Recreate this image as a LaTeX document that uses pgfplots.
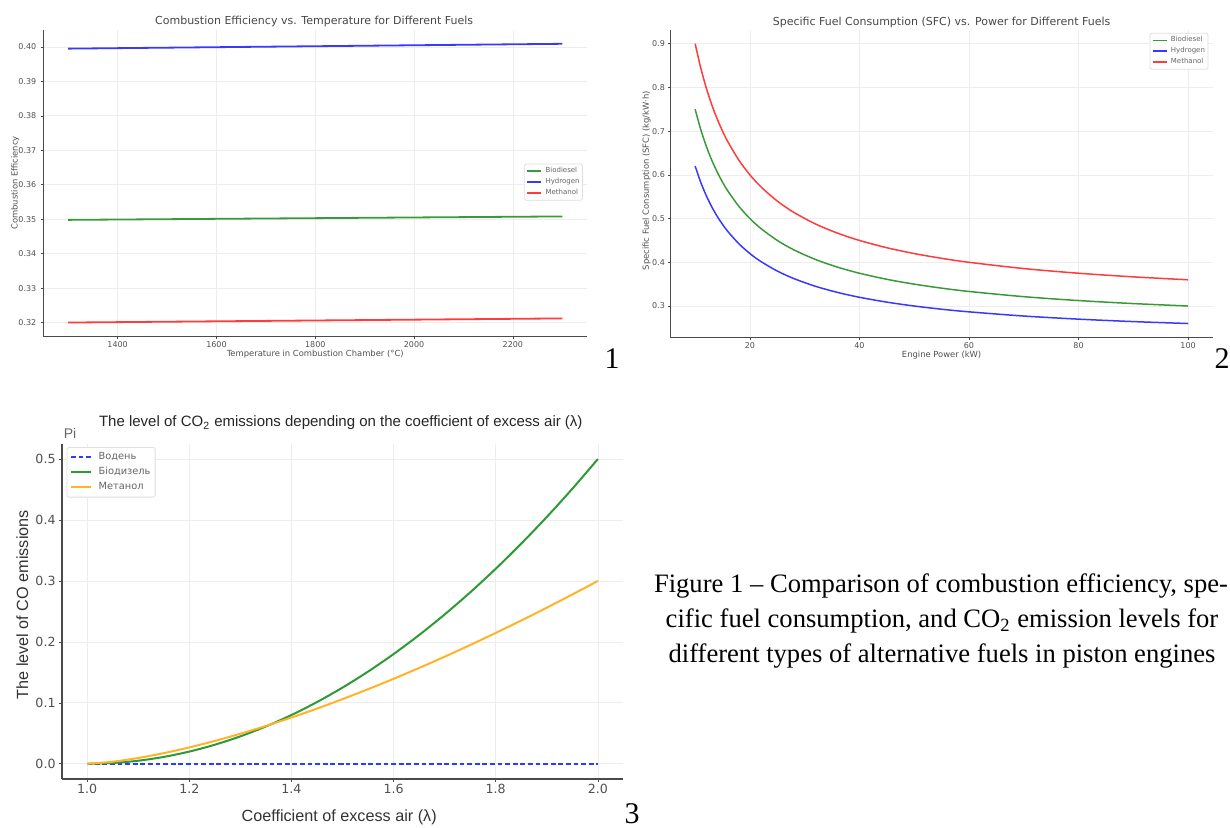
\documentclass[border=0pt]{standalone}
\usepackage{fontspec}
\setmainfont{DejaVu Sans}
\newfontfamily\arialf{Liberation Sans}
\newfontfamily\timesf{Liberation Serif}
\usepackage{pgfplots}
\pgfplotsset{compat=1.18}

\definecolor{mplgreen}{HTML}{3A9A3A}
\definecolor{mplblue}{HTML}{3838FF}
\definecolor{mplred}{HTML}{FF3B3B}
\definecolor{cgreen}{HTML}{2E9A36}
\definecolor{corange}{HTML}{FFB326}
\definecolor{cblue}{HTML}{2A3CFF}
\definecolor{spine}{HTML}{4A4A4A}
\definecolor{ticktext}{HTML}{505050}

\pgfplotsset{
  mplbase/.style={
    scale only axis,
    anchor=south west,
    axis x line*=bottom, axis y line*=left,
    axis line style={spine, line width=0.5pt},
    grid=major, grid style={gray!14, line width=0.35pt},
    tick align=outside, major tick length=1.3pt,
    tick style={spine, line width=0.3pt},
    /pgf/number format/assume math mode=true,
    /pgf/number format/1000 sep={},
    scaled ticks=false,
    every tick label/.append style={text=ticktext},
    label style={text=ticktext},
    title style={text=black!72},
    every axis title shift=0pt,
    legend cell align=left,
  },
  % line sample of length #1, then a small gap before the text
  short legend/.style 2 args={
    legend image code/.code={\draw[##1] (0pt,0pt) -- (#1,0pt); \path (#1+#2,0pt);}
  },
  onedec/.style={
    /pgf/number format/fixed,
    /pgf/number format/fixed zerofill,
    /pgf/number format/precision=1
  },
}

\begin{document}
\begin{tikzpicture}
\path[use as bounding box] (0pt,0pt) rectangle (615pt,413.5pt);

% ---- 1: efficiency vs temperature
\begin{axis}[mplbase,
  at={(21.75pt,245.25pt)},
  width=271.75pt, height=153.5pt,
  xmin=1250, xmax=2350, ymin=0.31595, ymax=0.40505,
  xtick={1400,1600,1800,2000,2200},
  ytick={0.32,0.33,0.34,0.35,0.36,0.37,0.38,0.39,0.40},
  yticklabel style={/pgf/number format/fixed, /pgf/number format/fixed zerofill, /pgf/number format/precision=2, xshift=1.2pt},
  xticklabel style={yshift=2.4pt},
  tick label style={font=\fontsize{4}{4.8}\selectfont},
  title={Combustion Efficiency vs. Temperature for Different Fuels},
  title style={font=\fontsize{5.5}{6.5}\selectfont, at={(0.498,1.025)}, anchor=center},
  xlabel={Temperature in Combustion Chamber (°C)},
  ylabel={Combustion Efficiency},
  label style={font=\fontsize{4.2}{5}\selectfont},
  xlabel style={at={(0.5,-0.056)}, anchor=center},
  ylabel style={at={(-0.052,0.5)}, anchor=center},
  short legend={7pt}{1.2pt},
  legend style={at={(0.9926,0.503)}, anchor=east, font=\fontsize{3.5}{4.2}\selectfont,
    draw=gray!25, rounded corners=0.8pt, fill=white, inner sep=1pt,
    text=black!60, nodes={inner sep=0.5pt}, row sep=0.3pt},
]
\addplot[mplgreen, line width=0.9pt] coordinates {(1300,0.3498) (1800,0.3503) (2300,0.3508)};
\addplot[mplblue, line width=0.9pt] coordinates {(1300,0.3995) (1800,0.4002) (2300,0.4009)};
\addplot[mplred, line width=0.9pt] coordinates {(1300,0.3200) (1800,0.3206) (2300,0.3212)};
\legend{Biodiesel,Hydrogen,Methanol}
\end{axis}

% ---- 2: SFC vs power
\begin{axis}[mplbase,
  at={(335.25pt,244.75pt)},
  width=271.1pt, height=153.9pt,
  xmin=5.5, xmax=104.5, ymin=0.228, ymax=0.932,
  xtick={20,40,60,80,100},
  ytick={0.3,0.4,0.5,0.6,0.7,0.8,0.9},
  yticklabel style={onedec, xshift=2pt},
  xticklabel style={yshift=2.4pt},
  tick label style={font=\fontsize{4}{4.8}\selectfont},
  title={Specific Fuel Consumption (SFC) vs. Power for Different Fuels},
  title style={font=\fontsize{5.5}{6.5}\selectfont, at={(0.50,1.025)}, anchor=center},
  xlabel={Engine Power (kW)},
  ylabel={Specific Fuel Consumption (SFC) (kg/kW·h)},
  label style={font=\fontsize{4.2}{5}\selectfont},
  xlabel style={at={(0.5,-0.056)}, anchor=center},
  ylabel style={at={(-0.044,0.51)}, anchor=center},
  short legend={7pt}{1.2pt},
  legend style={at={(0.992,0.99)}, anchor=north east, font=\fontsize{3.5}{4.2}\selectfont,
    draw=gray!25, rounded corners=0.8pt, fill=white, inner sep=1pt,
    text=black!60, nodes={inner sep=0.5pt}, row sep=0.3pt},
]
\addplot[mplgreen, line width=0.75pt, smooth] coordinates {
(10,0.75) (11,0.7045) (12,0.6667) (13,0.6346) (14,0.6071) (15,0.5833) (16,0.5625)
(18,0.5278) (20,0.5) (22,0.4773) (25,0.45) (28,0.4286) (32,0.4063) (36,0.3889)
(40,0.375) (45,0.3611) (50,0.35) (55,0.3409) (60,0.3333) (70,0.3214) (80,0.3125)
(90,0.3056) (100,0.30)};
\addplot[mplblue, line width=0.75pt, smooth] coordinates {
(10,0.62) (11,0.5836) (12,0.5533) (13,0.5277) (14,0.5057) (15,0.4867) (16,0.47)
(18,0.4422) (20,0.42) (22,0.4018) (25,0.38) (28,0.3629) (32,0.345) (36,0.3311)
(40,0.32) (45,0.3089) (50,0.30) (55,0.2927) (60,0.2867) (70,0.2771) (80,0.27)
(90,0.2644) (100,0.26)};
\addplot[mplred, line width=0.75pt, smooth] coordinates {
(10,0.90) (11,0.8455) (12,0.80) (13,0.7615) (14,0.7286) (15,0.70) (16,0.675)
(18,0.6333) (20,0.60) (22,0.5727) (25,0.54) (28,0.5143) (32,0.4875) (36,0.4667)
(40,0.45) (45,0.4333) (50,0.42) (55,0.4091) (60,0.40) (70,0.3857) (80,0.375)
(90,0.3667) (100,0.36)};
\legend{Biodiesel,Hydrogen,Methanol}
\end{axis}

% ---- 3: CO emissions vs excess air
\begin{axis}[mplbase,
  at={(30.8pt,24pt)},
  width=280.9pt, height=167.6pt,
  xmin=0.95, xmax=2.05, ymin=-0.025, ymax=0.525,
  xtick={1.0,1.2,1.4,1.6,1.8,2.0},
  ytick={0,0.1,0.2,0.3,0.4,0.5},
  xticklabel style={onedec, yshift=2.6pt},
  yticklabel style={onedec, xshift=2pt},
  axis line style={spine, line width=0.9pt},
  major tick length=1.5pt,
  tick label style={font=\fontsize{6.3}{7.5}\selectfont},
  title={The level of CO\textsubscript{2} emissions depending on the coefficient of excess air (λ)},
  title style={font=\arialf\fontsize{7.5}{8.5}\selectfont, text=black!85, at={(0.497,1.062)}, anchor=center},
  xlabel={Coefficient of excess air (λ)},
  ylabel={The level of CO emissions},
  label style={font=\arialf\fontsize{8.1}{9.5}\selectfont, text=black!80},
  xlabel style={at={(0.494,-0.113)}, anchor=center},
  ylabel style={at={(-0.07,0.52)}, anchor=center},
  short legend={10pt}{2.5pt},
  legend style={at={(0.009,0.99)}, anchor=north west, font=\fontsize{4.9}{6}\selectfont,
    draw=gray!25, rounded corners=1pt, fill=white, inner sep=1.5pt,
    text=black!60, nodes={inner sep=0.8pt}, row sep=0.8pt},
]
\addplot[cblue, line width=0.9pt, dash pattern=on 2.4pt off 1.4pt] coordinates {(1.0,0) (1.5,0) (2.0,0)};
\addplot[cgreen, line width=1pt, smooth] coordinates {
(1.0,0) (1.05,0.00125) (1.1,0.005) (1.15,0.01125) (1.2,0.02) (1.25,0.03125) (1.3,0.045)
(1.35,0.06125) (1.4,0.08) (1.45,0.10125) (1.5,0.125) (1.55,0.15125) (1.6,0.18)
(1.65,0.21125) (1.7,0.245) (1.75,0.28125) (1.8,0.32) (1.85,0.36125) (1.9,0.405)
(1.95,0.45125) (2.0,0.5)};
\addplot[corange, line width=1pt, smooth] coordinates {
(1.0,0) (1.05,0.00335) (1.1,0.00949) (1.15,0.01743) (1.2,0.02683) (1.25,0.0375) (1.3,0.0493)
(1.35,0.06212) (1.4,0.07589) (1.45,0.09056) (1.5,0.10607) (1.55,0.12237) (1.6,0.13943)
(1.65,0.15722) (1.7,0.1757) (1.75,0.19486) (1.8,0.21466) (1.85,0.2351) (1.9,0.25614)
(1.95,0.27778) (2.0,0.3)};
\legend{Водень,Біодизель,Метанол}
\end{axis}

\node[text=black!60, font=\arialf\fontsize{7}{8}\selectfont] at (35pt,197pt) {Pi};

% panel numbers
\begin{scope}[every node/.style={anchor=base, inner sep=0pt, font=\timesf\fontsize{15}{16}\selectfont}]
\node at (306pt,229.5pt) {1};
\node at (611pt,229.5pt) {2};
\node at (316pt,2pt) {3};
\end{scope}

% caption
\begin{scope}[every node/.style={anchor=base, font=\timesf\fontsize{13.3}{15}\selectfont, inner sep=0pt}]
\node at (470.5pt,117.5pt) {Figure 1 – Comparison of combustion efficiency, spe-};
\node at (471pt,100pt) {cific fuel consumption, and CO\textsubscript{2} emission levels for};
\node at (471pt,82.5pt) {different types of alternative fuels in piston engines};
\end{scope}
\end{tikzpicture}
\end{document}
